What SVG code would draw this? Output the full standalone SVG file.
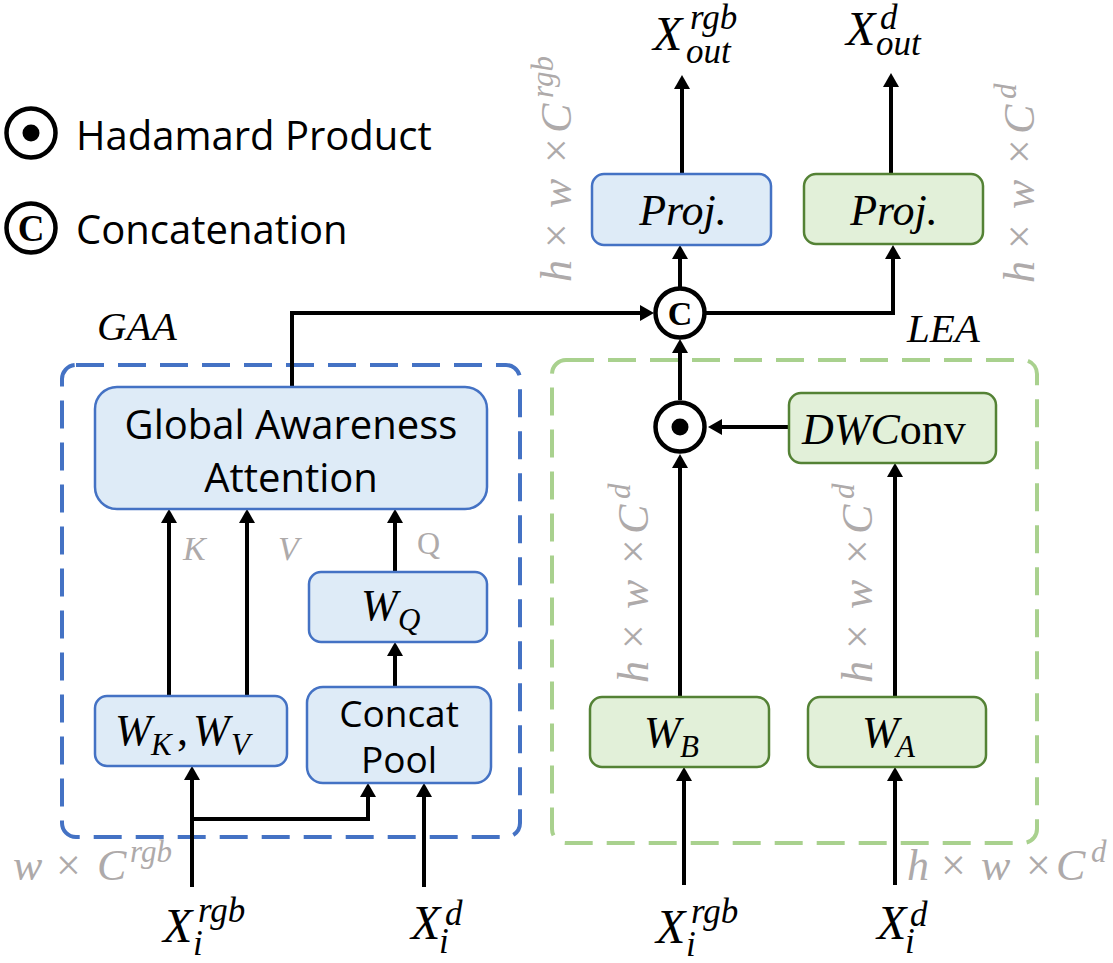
<svg xmlns="http://www.w3.org/2000/svg" width="1113" height="963" viewBox="0 0 1113 963">
<defs>
<marker id="ah" viewBox="0 0 14 16" refX="6" refY="8" markerWidth="14" markerHeight="16" markerUnits="userSpaceOnUse" orient="auto">
<path d="M0,0 L14,8 L0,16 Z" fill="#000"/>
</marker>
<style>
.blue{fill:#deebf7;stroke:#4472c4;stroke-width:2.5}
.green{fill:#e2f0d9;stroke:#548235;stroke-width:2.5}
.dashb{fill:none;stroke:#4472c4;stroke-width:4;stroke-dasharray:28 14}
.dashg{fill:none;stroke:#a9d18e;stroke-width:4;stroke-dasharray:28 14}
.wire{fill:none;stroke:#000;stroke-width:4;marker-end:url(#ah)}
.op{fill:#fff;stroke:#000;stroke-width:4.5}
.sans{font-family:"Open Sans","Noto Sans",sans-serif;font-size:40px;fill:#000}
.cp{font-size:37px}
.math{font-family:"Liberation Serif","Times New Roman",serif;font-style:italic;fill:#000}
.up{font-style:normal}
.gray{fill:#aeaaaa}
.big{font-size:44px}
.sm{font-size:31px}
.xl{font-size:48px}
.ss{font-size:35px}
.csym{font-family:"Liberation Serif",serif;font-weight:bold;text-anchor:middle;fill:#000}
</style>
</defs>

<g id="legend">
<circle class="op" cx="31" cy="133" r="24.5"/>
<circle cx="31" cy="133" r="8.5" fill="#000"/>
<text class="sans" x="76" y="150">Hadamard Product</text>
<circle class="op" cx="31" cy="228" r="24.5"/>
<text class="csym" x="31" y="241" font-size="37">C</text>
<text class="sans" x="76" y="244">Concatenation</text>
</g>

<g id="gaa-group">
<rect class="dashb" x="62" y="365" width="458" height="472" rx="14"/>
<text class="math" x="97" y="340" font-size="41">GAA</text>
</g>
<g id="lea-group">
<rect class="dashg" x="552" y="360" width="485" height="483" rx="14"/>
<text class="math" x="907" y="342" font-size="41">LEA</text>
</g>

<g id="connectors">
<path class="wire" d="M192,887 V774"/>
<path class="wire" d="M192,819 H368 V791"/>
<path class="wire" d="M424,887 V791"/>
<path class="wire" d="M395,687 V650"/>
<path class="wire" d="M395,572 V517"/>
<path class="wire" d="M169,696 V517"/>
<path class="wire" d="M247,696 V517"/>
<path class="wire" d="M292,387 V313 H646"/>
<path class="wire" d="M680,288 V253"/>
<path class="wire" d="M706,313 H893 V253"/>
<path class="wire" d="M682,174 V83"/>
<path class="wire" d="M891,174 V81"/>
<path class="wire" d="M680,400 V347"/>
<path class="wire" d="M680,697 V462"/>
<path class="wire" d="M684,885 V775"/>
<path class="wire" d="M895,885 V775"/>
<path class="wire" d="M895,697 V471"/>
<path class="wire" d="M789,427 H716"/>
</g>

<g id="gaa">
<rect class="blue" x="95" y="387" width="392" height="122" rx="22"/>
<text class="sans" x="291" y="439" text-anchor="middle">Global Awareness</text>
<text class="sans" x="291" y="492" text-anchor="middle">Attention</text>
</g>
<g id="wq">
<rect class="blue" x="309" y="572" width="178" height="70" rx="12"/>
<text class="math"><tspan class="big" x="361" y="620">W</tspan><tspan class="sm" x="398" y="630">Q</tspan></text>
</g>
<g id="wkv">
<rect class="blue" x="95" y="696" width="192" height="70" rx="12"/>
<text class="math"><tspan class="big" x="115" y="745">W</tspan><tspan class="sm" x="151" y="755">K</tspan><tspan class="big up" x="177" y="745">,</tspan><tspan class="big" x="193" y="745">W</tspan><tspan class="sm" x="231" y="755">V</tspan></text>
</g>
<g id="concatpool">
<rect class="blue" x="307" y="687" width="184" height="96" rx="16"/>
<text class="sans cp" x="399" y="727" text-anchor="middle">Concat</text>
<text class="sans cp" x="399" y="773" text-anchor="middle">Pool</text>
</g>
<g id="kvq-labels">
<text class="math gray" x="183" y="560" font-size="34">K</text>
<text class="math gray" x="278" y="560" font-size="34">V</text>
<text class="math gray up" x="417" y="554" font-size="32">Q</text>
</g>

<g id="concat-op">
<circle class="op" cx="680" cy="313" r="24.5"/>
<text class="csym" x="680" y="325" font-size="34">C</text>
</g>
<g id="hadamard-op">
<circle class="op" cx="680" cy="427" r="24.5"/>
<circle cx="680" cy="427" r="8.5" fill="#000"/>
</g>

<g id="proj-rgb">
<rect class="blue" x="592" y="174" width="179" height="71" rx="12"/>
<text class="math big" x="683" y="225" text-anchor="middle">Proj.</text>
</g>
<g id="proj-d">
<rect class="green" x="804" y="174" width="179" height="70" rx="12"/>
<text class="math big" x="894" y="225" text-anchor="middle">Proj.</text>
</g>
<g id="dwconv">
<rect class="green" x="789" y="393" width="207" height="70" rx="12"/>
<text class="math big" x="802" y="444">DWC<tspan class="up">onv</tspan></text>
</g>
<g id="wb">
<rect class="green" x="590" y="697" width="179" height="70" rx="12"/>
<text class="math"><tspan class="big" x="644" y="747">W</tspan><tspan class="sm" x="680" y="757">B</tspan></text>
</g>
<g id="wa">
<rect class="green" x="808" y="697" width="178" height="70" rx="12"/>
<text class="math"><tspan class="big" x="862" y="747">W</tspan><tspan class="sm" x="896" y="757">A</tspan></text>
</g>

<g id="io-labels" class="math">
<text><tspan class="xl" x="653" y="50">X</tspan><tspan class="ss" x="690" y="29">rgb</tspan><tspan class="ss" x="686" y="63">out</tspan></text>
<text><tspan class="xl" x="846" y="45">X</tspan><tspan class="ss" x="880" y="29">d</tspan><tspan class="ss" x="876" y="55">out</tspan></text>
<text><tspan class="xl" x="163" y="942">X</tspan><tspan class="ss" x="198" y="922">rgb</tspan><tspan class="ss" x="193" y="955">i</tspan></text>
<text><tspan class="xl" x="411" y="939">X</tspan><tspan class="ss" x="445" y="925">d</tspan><tspan class="ss" x="439" y="953">i</tspan></text>
<text><tspan class="xl" x="656" y="943">X</tspan><tspan class="ss" x="691" y="923">rgb</tspan><tspan class="ss" x="686" y="956">i</tspan></text>
<text><tspan class="xl" x="877" y="939">X</tspan><tspan class="ss" x="910" y="926">d</tspan><tspan class="ss" x="905" y="953">i</tspan></text>
</g>

<g id="dim-labels" class="math gray" font-size="44">
<text transform="translate(571,282) rotate(-90)"><tspan x="0" y="0">h</tspan><tspan class="up" x="34" y="0">×</tspan><tspan x="74" y="0">w</tspan><tspan class="up" x="119" y="0">×</tspan><tspan x="149" y="0">C</tspan><tspan class="sm" x="184" y="-18">rgb</tspan></text>
<text transform="translate(1034,283) rotate(-90)"><tspan x="0" y="0">h</tspan><tspan class="up" x="34" y="0">×</tspan><tspan x="74" y="0">w</tspan><tspan class="up" x="119" y="0">×</tspan><tspan x="149" y="0">C</tspan><tspan class="sm" x="184" y="-18">d</tspan></text>
<text transform="translate(648,683) rotate(-90)"><tspan x="0" y="0">h</tspan><tspan class="up" x="34" y="0">×</tspan><tspan x="74" y="0">w</tspan><tspan class="up" x="119" y="0">×</tspan><tspan x="149" y="0">C</tspan><tspan class="sm" x="184" y="-18">d</tspan></text>
<text transform="translate(872,683) rotate(-90)"><tspan x="0" y="0">h</tspan><tspan class="up" x="34" y="0">×</tspan><tspan x="74" y="0">w</tspan><tspan class="up" x="119" y="0">×</tspan><tspan x="149" y="0">C</tspan><tspan class="sm" x="184" y="-18">d</tspan></text>
<text><tspan x="907" y="880">h</tspan><tspan class="up" x="941" y="880">×</tspan><tspan x="981" y="880">w</tspan><tspan class="up" x="1026" y="880">×</tspan><tspan x="1056" y="880">C</tspan><tspan class="sm" x="1091" y="862">d</tspan></text>
<text><tspan x="13" y="880">w</tspan><tspan class="up" x="56" y="880">×</tspan><tspan x="97" y="880">C</tspan><tspan class="sm" x="130" y="862">rgb</tspan></text>
</g>
</svg>
